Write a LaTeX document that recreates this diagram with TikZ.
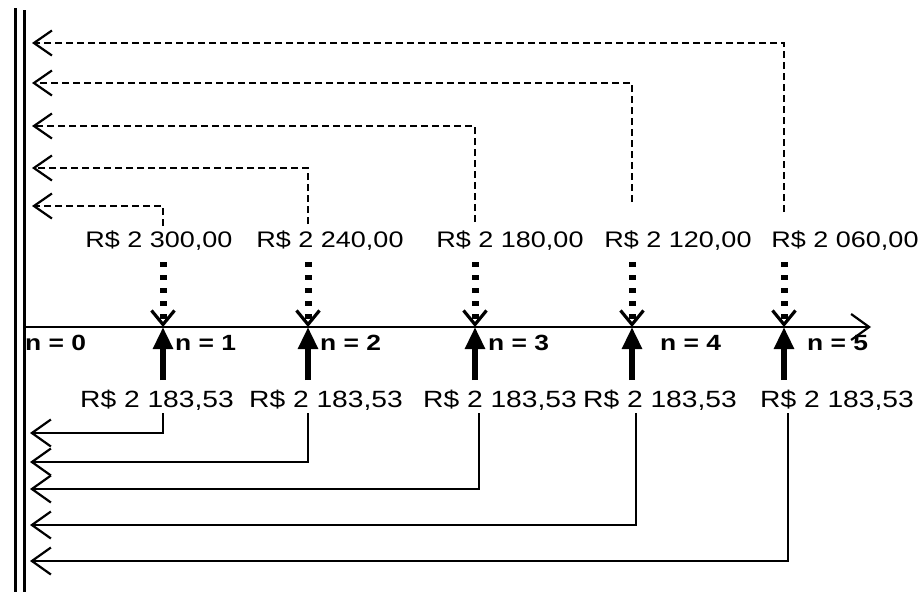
\documentclass[tikz,border=0pt]{standalone}
\usepackage{fontspec}
\newfontfamily\lab[FakeStretch=1.2]{Liberation Sans}
\usetikzlibrary{arrows.meta}
\tikzset{
  wall/.style={line width=3pt},
  axisline/.style={line width=2.4pt,-{Straight Barb[length=18pt,width=26pt,line width=2.2pt]}},
  dashret/.style={line width=2.4pt,dash pattern=on 7pt off 4pt,-{Straight Barb[length=18pt,width=25pt,line width=2.2pt]}},
  solret/.style={line width=2.4pt,-{Straight Barb[length=19pt,width=27pt,line width=2.2pt]}},
  dotarrow/.style={line width=7pt,dash pattern=on 5pt off 8pt,-{Straight Barb[length=14pt,width=23pt,line width=3.2pt]}},
  uparrow/.style={line width=5.5pt,-{Triangle[length=22pt,width=19pt]}},
  toplab/.style={font=\lab\fontsize{22.5}{26}\selectfont,inner sep=0pt,anchor=base},
  botlab/.style={font=\lab\fontsize{23.5}{27}\selectfont,inner sep=0pt,anchor=base},
  nlab/.style={font=\lab\bfseries\fontsize{22}{26}\selectfont,inner sep=0pt,anchor=base west},
}
\begin{document}
\begin{tikzpicture}[x=1pt,y=-1pt]
\useasboundingbox[fill=white] (0,0) rectangle (921,592);
% wall
\draw[wall] (15,8) -- (15,592);
\draw[wall] (24,10) -- (24,592);
% axis
\coordinate (a0) at (24,327);
\coordinate (aend) at (871,327);
\draw[axisline] (a0) -- (aend);
% axis points
\coordinate (a1) at (163,327);
\coordinate (a2) at (308,327);
\coordinate (a3) at (475,327);
\coordinate (a4) at (632,327);
\coordinate (a5) at (784,327);
% top labels
\node[toplab] (t1) at (159,247) {R\$ 2 300,00};
\node[toplab] (t2) at (330,247) {R\$ 2 240,00};
\node[toplab] (t3) at (510,247) {R\$ 2 180,00};
\node[toplab] (t4) at (678,247) {R\$ 2 120,00};
\node[toplab] (t5) at (845,247) {R\$ 2 060,00};
% bottom labels
\node[botlab] (b1) at (157,407) {R\$ 2 183,53};
\node[botlab] (b2) at (326,407) {R\$ 2 183,53};
\node[botlab] (b3) at (500,407) {R\$ 2 183,53};
\node[botlab] (b4) at (660,407) {R\$ 2 183,53};
\node[botlab] (b5) at (837,407) {R\$ 2 183,53};
% n labels
\node[nlab] (n0) at (25,350) {n = 0};
\node[nlab] (n1) at (175,350) {n = 1};
\node[nlab] (n2) at (320,350) {n = 2};
\node[nlab] (n3) at (488,350) {n = 3};
\node[nlab] (n4) at (660,350) {n = 4};
\node[nlab] (n5) at (807,350) {n = 5};
% dotted arrows down, solid arrows up
\foreach \i in {1,...,5}{
  \coordinate (ds\i) at ([yshift=65pt]a\i);
  \draw[dotarrow] (ds\i) -- (a\i);
  \coordinate (us\i) at ([yshift=-53pt]a\i);
  \draw[uparrow] (us\i) -- (a\i);
}
% dashed returns (top)
\coordinate (dt1) at (163,226); \coordinate (L1) at (32,206);
\coordinate (dt2) at (308,224); \coordinate (L2) at (32,168);
\coordinate (dt3) at (475,222); \coordinate (L3) at (32,126);
\coordinate (dt4) at (632,202); \coordinate (L4) at (32,83);
\coordinate (dt5) at (784,212); \coordinate (L5) at (32,43);
\foreach \i in {1,...,5}{\draw[dashret] (dt\i) |- (L\i);}
% solid returns (bottom)
\coordinate (st1) at (163,413); \coordinate (R1) at (30,433);
\coordinate (st2) at (308,413); \coordinate (R2) at (30,462);
\coordinate (st3) at (479,413); \coordinate (R3) at (30,489);
\coordinate (st4) at (636,413); \coordinate (R4) at (30,525);
\coordinate (st5) at (788,413); \coordinate (R5) at (30,561);
\foreach \i in {1,...,5}{\draw[solret] (st\i) |- (R\i);}
\end{tikzpicture}
\end{document}
